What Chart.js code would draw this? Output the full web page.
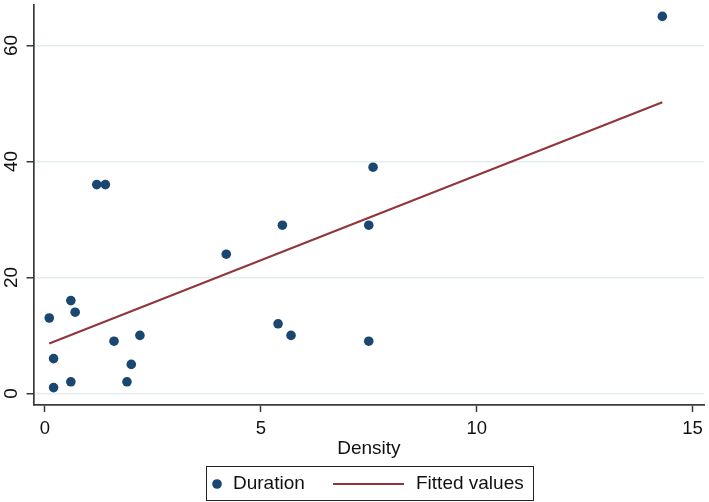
<!DOCTYPE html>
<html><head><meta charset="utf-8">
<script src="https://cdn.jsdelivr.net/npm/chart.js@4/dist/chart.umd.min.js"></script>
<style>html,body{margin:0;padding:0;background:#fff}#wrap{width:709px;height:502px}</style>
</head><body><div id="wrap"><canvas id="c" width="709" height="502"></canvas></div>
<script>
// ---- data ----
const density  = [0.1, 0.6, 0.7, 0.2, 0.2, 0.6, 1.2, 1.4, 1.6, 2.2, 2.0, 1.9, 4.2, 5.4, 5.7, 5.5, 7.5, 7.6, 7.5, 14.3];
const duration = [13, 16, 14, 6, 1, 2, 36, 36, 9, 10, 5, 2, 24, 12, 10, 29, 29, 39, 9, 65];
const fitDensity = [0.1, 14.3];
const fitValues  = [8.6, 50.2];
const xTicks = [0, 5, 10, 15];
const yTicks = [0, 20, 40, 60];
const seriesNames = ['Duration', 'Fitted values'];
const xTitle = 'Density';

const FONT = '"Liberation Sans", Arial, Helvetica, sans-serif';
const NAVY = '#1a476f', MAROON = '#90353b', AXIS = '#3a3a3a', GRID = '#e4eef1', TXT = '#111';

const scatterPts = density.map((d, i) => ({x: d, y: duration[i]}));
const fitPts = fitDensity.map((d, i) => ({x: d, y: fitValues[i]}));

const yLabelPlugin = {
  id: 'yLabels',
  afterDraw(chart) {
    const s = chart.scales.y, ctx = chart.ctx;
    ctx.save();
    ctx.fillStyle = TXT;
    ctx.font = '19px ' + FONT;
    ctx.textAlign = 'center';
    ctx.textBaseline = 'middle';
    s.ticks.forEach(t => {
      const py = s.getPixelForValue(t.value);
      ctx.save();
      ctx.translate(12, py);
      ctx.rotate(-Math.PI / 2);
      ctx.fillText(String(t.value), 0, 0);
      ctx.restore();
    });
    ctx.restore();
  }
};

const legendPlugin = {
  id: 'boxLegend',
  afterDraw(chart) {
    const ctx = chart.ctx;
    const ds = chart.data.datasets;
    const bx = 206, by = 466, bw = 327, bh = 34, cy = by + bh / 2 + 1;
    ctx.save();
    ctx.fillStyle = '#fff';
    ctx.fillRect(bx, by, bw, bh);
    ctx.strokeStyle = '#222';
    ctx.lineWidth = 1;
    ctx.strokeRect(bx + 0.5, by + 0.5, bw, bh);
    ctx.font = '19px ' + FONT;
    ctx.textBaseline = 'middle';
    ctx.textAlign = 'left';
    ctx.fillStyle = ds[0].backgroundColor;
    ctx.beginPath(); ctx.arc(217, cy, 4.8, 0, Math.PI * 2); ctx.fill();
    ctx.fillStyle = TXT;
    ctx.fillText(ds[0].label, 233, cy);
    ctx.strokeStyle = ds[1].borderColor;
    ctx.lineWidth = 2;
    ctx.beginPath(); ctx.moveTo(333, cy); ctx.lineTo(404, cy); ctx.stroke();
    ctx.fillText(ds[1].label, 416, cy);
    ctx.restore();
  }
};

new Chart(document.getElementById('c'), {
  type: 'scatter',
  data: {
    datasets: [
      { label: seriesNames[0], data: scatterPts, backgroundColor: NAVY, borderWidth: 0, pointRadius: 4.8, pointHoverRadius: 4.8, order: 1 },
      { label: seriesNames[1], data: fitPts, type: 'line', showLine: true, borderColor: MAROON, borderWidth: 2, pointRadius: 0, fill: false, order: 0 }
    ]
  },
  options: {
    responsive: false,
    animation: false,
    layout: { padding: { top: 3, right: 2.5, left: 0, bottom: 37 } },
    plugins: { legend: { display: false }, tooltip: { enabled: false } },
    scales: {
      x: {
        type: 'linear', min: -0.265, max: 15.27,
        afterBuildTicks: s => { s.ticks = xTicks.map(v => ({value: v})); },
        afterFit: s => { s.height = 60; },
        ticks: { color: TXT, font: { family: FONT, size: 18.5 }, padding: 6, maxRotation: 0, autoSkip: false },
        grid: { drawOnChartArea: false, tickLength: 7, tickColor: AXIS, tickWidth: 1.5 },
        border: { color: AXIS, width: 1.7 },
        title: { display: true, text: xTitle, color: TXT, font: { family: FONT, size: 19 }, padding: { top: 0, bottom: 5 } }
      },
      y: {
        type: 'linear', min: -2, max: 67,
        afterBuildTicks: s => { s.ticks = yTicks.map(v => ({value: v})); },
        afterFit: s => { s.width = 33.5; },
        ticks: { display: false },
        grid: { color: GRID, lineWidth: 1.5, tickLength: 7, tickColor: AXIS, tickWidth: 1.5 },
        border: { color: AXIS, width: 1.7 }
      }
    }
  },
  plugins: [yLabelPlugin, legendPlugin]
});
</script></body></html>
